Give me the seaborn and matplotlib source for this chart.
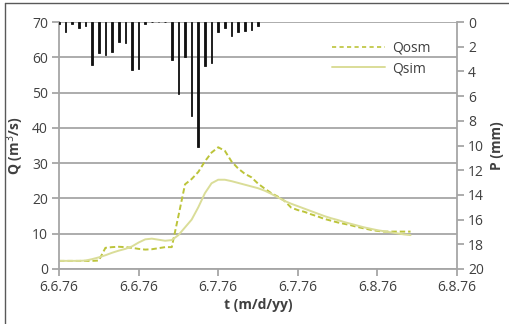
import matplotlib
matplotlib.use("Agg")
import matplotlib.pyplot as plt
from matplotlib.lines import Line2D
import numpy as np
import pandas as pd
import seaborn as sns

# hourly values, hour 0 = 6/6/76 00:00
hours_q = list(range(54))
q_osm = [2.3, 2.3, 2.3, 2.3, 2.3, 2.3, 2.4, 6.0, 6.2, 6.3,
         6.2, 6.0, 5.7, 5.5, 5.6, 5.9, 6.2, 6.2, 15.0, 24.0,
         25.5, 27.5, 30.5, 33.0, 34.5, 33.5, 30.5, 28.5, 27.0, 26.0,
         24.2, 22.8, 21.5, 20.5, 19.3, 17.4, 16.7, 16.2, 15.5, 14.9,
         14.2, 13.7, 13.2, 12.8, 12.4, 11.9, 11.5, 11.1, 10.8, 10.6,
         10.6, 10.6, 10.6, 10.6]
q_sim = [2.3, 2.3, 2.3, 2.3, 2.4, 2.8, 3.3, 3.9, 4.6, 5.2,
         5.7, 6.4, 7.5, 8.4, 8.6, 8.3, 8.0, 8.2, 9.6, 11.8,
         14.0, 17.5, 21.5, 24.3, 25.3, 25.3, 24.9, 24.4, 23.9, 23.4,
         22.9, 22.2, 21.3, 20.3, 19.3, 18.5, 17.8, 17.1, 16.4, 15.7,
         15.0, 14.4, 13.9, 13.3, 12.8, 12.3, 11.8, 11.4, 11.0, 10.7,
         10.4, 10.1, 9.8, 9.6]

hours_p = list(range(31))
rain = [0.15, 0.8, 0.15, 0.5, 0.3, 3.5, 2.5, 2.7, 2.4, 1.6,
        1.7, 3.9, 3.8, 0.2, 0, 0, 0, 3.05, 5.85, 2.85,
        7.6, 10.1, 3.6, 3.3, 0.85, 0.45, 1.1, 0.8, 0.7, 0.65,
        0.3]

tick_hours = [0, 12, 24, 36, 48, 60]
tick_labels = ["6.6.76", "6.6.76", "6.7.76", "6.7.76", "6.8.76", "6.8.76"]

sns.set_theme(style="white")
plt.rcParams["font.family"] = ["Open Sans", "DejaVu Sans"]

grid_c = "#a6a6a6"
text_c = "#404040"
osm_c = "#bcc43a"
sim_c = "#dadd98"

fig = plt.figure(figsize=(5.09, 3.24), dpi=100)
ax = fig.add_axes([59 / 509, 1 - 269 / 324, 398 / 509, 247 / 324])

df = pd.DataFrame({"t": hours_q * 2,
                   "Q": q_osm + q_sim,
                   "series": ["Qosm"] * len(q_osm) + ["Qsim"] * len(q_sim)})
sns.lineplot(data=df, x="t", y="Q", hue="series", style="series",
             palette={"Qosm": osm_c, "Qsim": sim_c},
             dashes={"Qosm": (2.8, 1.5), "Qsim": ""},
             linewidth=1.4, legend=False, ax=ax)

ax.set_xlim(0, 60)
ax.set_ylim(0, 70)
ax.set_yticks(range(0, 71, 10))
ax.set_xticks(tick_hours)
ax.set_xticklabels(tick_labels)
ax.yaxis.grid(True, color=grid_c, linewidth=1.3)
ax.set_axisbelow(True)
for s in ["top", "right"]:
    ax.spines[s].set_visible(False)
for s in ["left", "bottom"]:
    ax.spines[s].set_color(grid_c)
    ax.spines[s].set_linewidth(1.3)
ax.tick_params(axis="both", colors=grid_c, length=5, width=1.3,
               labelcolor=text_c, labelsize=10, pad=3, direction="out")
ax.tick_params(axis="y", left=True)
ax.tick_params(axis="x", bottom=True)
ax.set_xlabel("t (m/d/yy)", fontsize=10, fontweight="bold", color=text_c, labelpad=2)
ax.set_ylabel("Q (m$^{3}$/s)", fontsize=10, fontweight="bold", color=text_c, labelpad=4)

ax2 = ax.twinx()
ax2.bar(hours_p, rain, width=0.25, color="#111111", edgecolor="#111111", linewidth=0.6)
ax2.set_ylim(20, 0)
ax2.set_yticks(range(0, 21, 2))
for s in ["top", "left", "bottom"]:
    ax2.spines[s].set_visible(False)
ax2.spines["right"].set_color(grid_c)
ax2.spines["right"].set_linewidth(1.3)
ax2.tick_params(axis="y", right=True, colors=grid_c, length=5, width=1.3,
                labelcolor=text_c, labelsize=10, pad=3, direction="out")
ax2.set_ylabel("P (mm)", fontsize=10, fontweight="bold", color=text_c, labelpad=4)
ax2.grid(False)

handles = [Line2D([], [], color=osm_c, lw=1.2, dashes=(2.5, 2.0)),
           Line2D([], [], color=sim_c, lw=1.4)]
ax.legend(handles, ["Qosm", "Qsim"], loc="upper left", bbox_to_anchor=(0.655, 0.975),
          frameon=False, fontsize=10, handlelength=3.8, handletextpad=0.5,
          labelspacing=0.4, labelcolor=text_c)

# outer chart border (only top and left visible)
fig.add_artist(Line2D([5 / 509, 1], [1 - 3 / 324, 1 - 3 / 324], color="#595959", lw=1,
                      transform=fig.transFigure))
fig.add_artist(Line2D([5 / 509, 5 / 509], [0, 1 - 3 / 324], color="#595959", lw=1,
                      transform=fig.transFigure))

fig.savefig("out.png", dpi=100)
